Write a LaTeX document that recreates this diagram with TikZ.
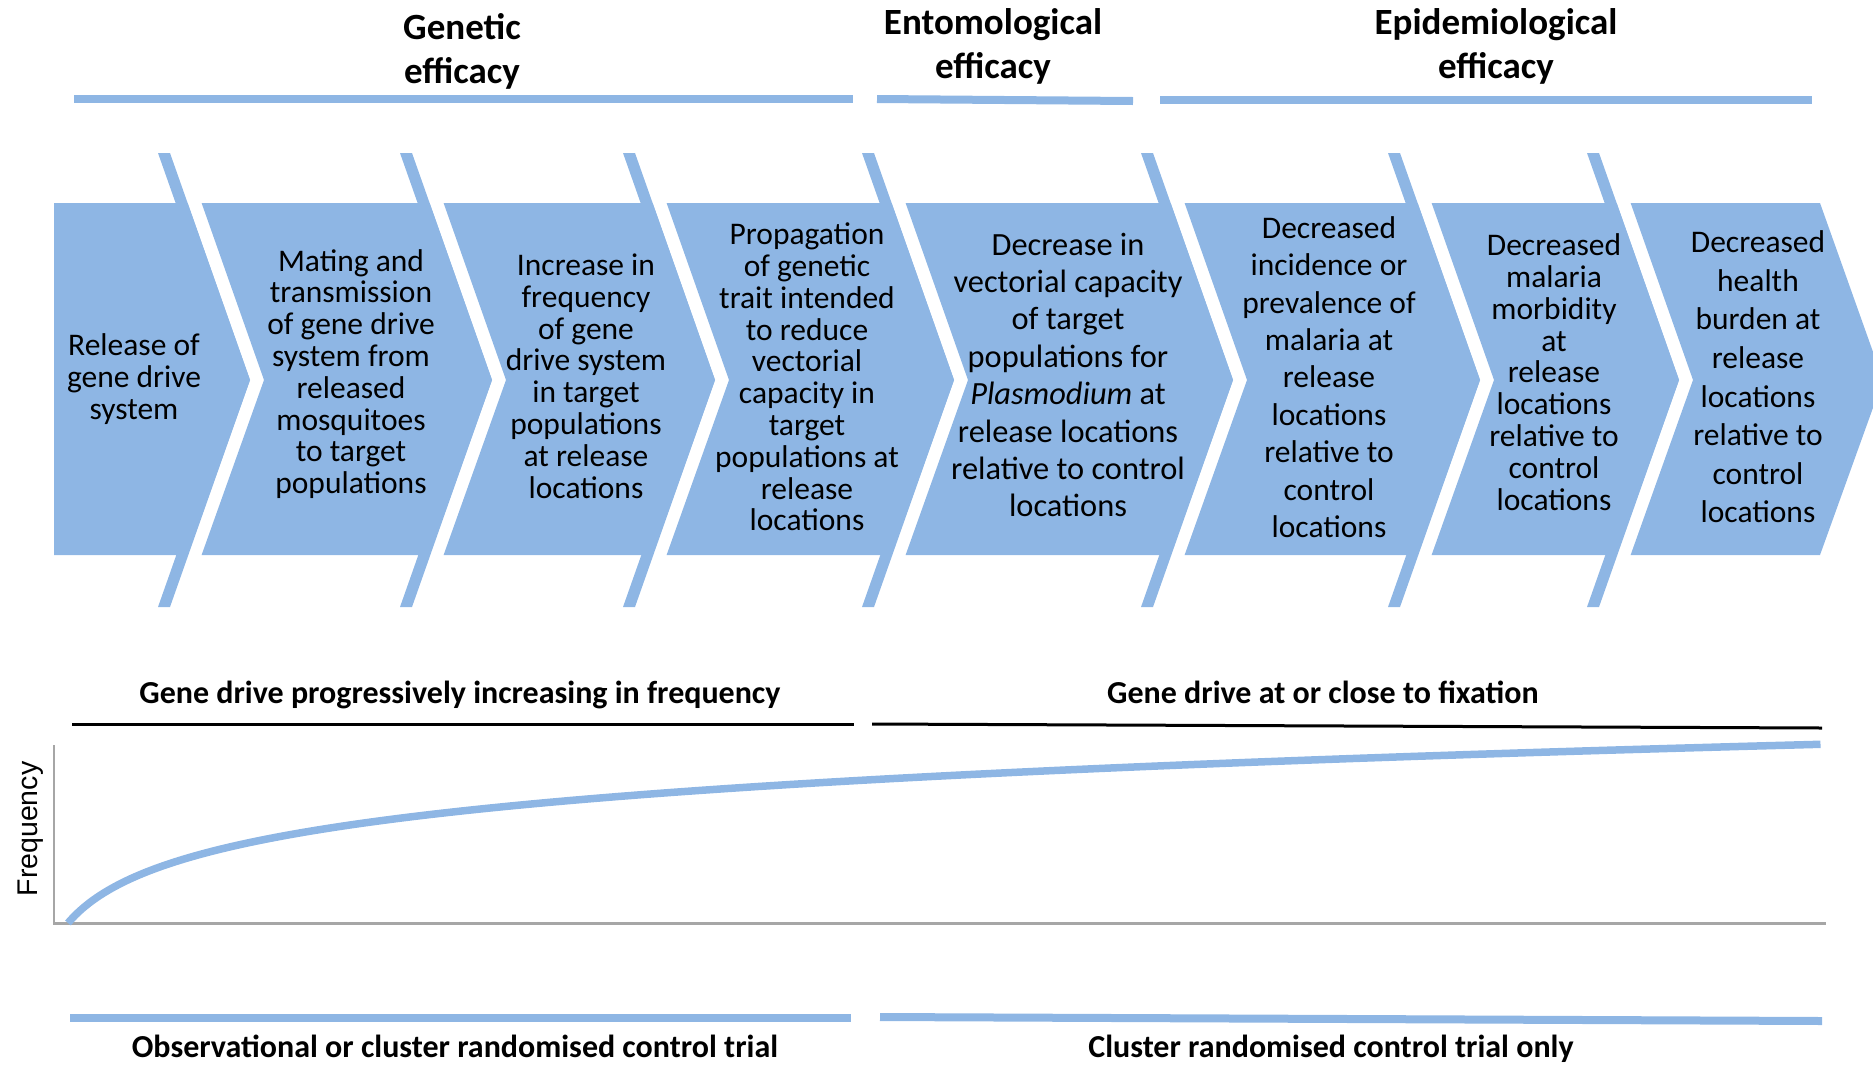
\documentclass[tikz,border=0pt]{standalone}
\usepackage{fontspec}
\setmainfont{Carlito}
\newfontfamily\axisfont{Liberation Sans}
\usepackage{tikz}
\usetikzlibrary{positioning}

\definecolor{chevblue}{RGB}{142,182,228}
\definecolor{axisgrey}{RGB}{166,166,166}

\begin{document}
\begin{tikzpicture}[
    x=1pt, y=-1pt,
    chevron/.style={fill=chevblue},
    divider/.style={fill=chevblue},
    steptext/.style={align=center, inner sep=0pt, font=\fontsize{31.5}{31.8}\selectfont},
    steptextwide/.style={align=center, inner sep=0pt, font=\fontsize{31.5}{37.4}\selectfont},
    phase/.style={align=center, inner sep=0pt, font=\fontsize{37}{44}\selectfont\bfseries},
    stage/.style={anchor=base, inner sep=0pt, font=\fontsize{32}{38}\selectfont\bfseries},
    band/.style={draw=chevblue, line width=8pt},
    rule/.style={draw=black, line width=3pt}
]
\useasboundingbox (0,0) rectangle (1873,1066);

% efficacy headings
\node[phase] (genetic) at (462,51) {Genetic\\efficacy};
\node[phase] (entomological) at (993,46) {Entomological\\efficacy};
\node[phase] (epidemiological) at (1496,46) {Epidemiological\\efficacy};

\draw[band] (74,99) -- (853,99);
\draw[band] (877,99) -- (1133,101);
\draw[band] (1160,100) -- (1812,100);

% chevron bodies
\fill[chevron] (54,203) -- (187.6,203) -- (250,380) -- (187.6,555) -- (54,555) -- cycle;
\fill[chevron] (201.6,203) -- (429.6,203) -- (492,380) -- (429.6,555) -- (201.6,555) -- (264,380) -- cycle;
\fill[chevron] (443.6,203) -- (652.6,203) -- (715,380) -- (652.6,555) -- (443.6,555) -- (506,380) -- cycle;
\fill[chevron] (666.6,203) -- (891.6,203) -- (954,380) -- (891.6,555) -- (666.6,555) -- (729,380) -- cycle;
\fill[chevron] (905.6,203) -- (1170.6,203) -- (1233,380) -- (1170.6,555) -- (905.6,555) -- (968,380) -- cycle;
\fill[chevron] (1184.6,203) -- (1417.6,203) -- (1480,380) -- (1417.6,555) -- (1184.6,555) -- (1247,380) -- cycle;
\fill[chevron] (1431.6,203) -- (1616.6,203) -- (1679,380) -- (1616.6,555) -- (1431.6,555) -- (1494,380) -- cycle;
\fill[chevron] (1630.6,203) -- (1820,203) -- (1883,380) -- (1820,555) -- (1630.6,555) -- (1693,380) -- cycle;

% dividers between the steps
\fill[divider] (158,153) -- ++(12,0) -- ++(80,227) -- ++(-80,227) -- ++(-12,0) -- ++(80,-227) -- cycle;
\fill[divider] (400,153) -- ++(12,0) -- ++(80,227) -- ++(-80,227) -- ++(-12,0) -- ++(80,-227) -- cycle;
\fill[divider] (623,153) -- ++(12,0) -- ++(80,227) -- ++(-80,227) -- ++(-12,0) -- ++(80,-227) -- cycle;
\fill[divider] (862,153) -- ++(12,0) -- ++(80,227) -- ++(-80,227) -- ++(-12,0) -- ++(80,-227) -- cycle;
\fill[divider] (1141,153) -- ++(12,0) -- ++(80,227) -- ++(-80,227) -- ++(-12,0) -- ++(80,-227) -- cycle;
\fill[divider] (1388,153) -- ++(12,0) -- ++(80,227) -- ++(-80,227) -- ++(-12,0) -- ++(80,-227) -- cycle;
\fill[divider] (1587,153) -- ++(12,0) -- ++(80,227) -- ++(-80,227) -- ++(-12,0) -- ++(80,-227) -- cycle;

\node[steptext] (release) at (134,379) {Release of\\gene drive\\system};
\node[steptext] (mating) at (351,374) {Mating and\\transmission\\of gene drive\\system from\\released\\mosquitoes\\to target\\populations};
\node[steptext] (increase) at (586,376) {Increase in\\frequency\\of gene\\drive system\\in target\\populations\\at release\\locations};
\node[steptext] (propagation) at (807,377) {Propagation\\of genetic\\trait intended\\to reduce\\vectorial\\capacity in\\target\\populations at\\release\\locations};
\node[steptextwide, font=\fontsize{32.4}{37.4}\selectfont] (vectorial) at (1068,375) {Decrease in\\vectorial capacity\\of target\\populations for\\\textit{Plasmodium} at\\release locations\\relative to control\\locations};
\node[steptextwide] (incidence) at (1329,377) {Decreased\\incidence or\\prevalence of\\malaria at\\release\\locations\\relative to\\control\\locations};
\node[steptext] (morbidity) at (1554,372) {Decreased\\malaria\\morbidity\\at\\release\\locations\\relative to\\control\\locations};
\node[steptextwide, font=\fontsize{31.5}{38.6}\selectfont] (burden) at (1758,377) {Decreased\\health\\burden at\\release\\locations\\relative to\\control\\locations};

% frequency graph
\node[stage] (progressive) at (460,703) {Gene drive progressively increasing in frequency};
\node[stage] (fixation) at (1323,703) {Gene drive at or close to fixation};
\draw[rule] (72,724) -- (854,724);
\draw[rule] (872,724) -- (1822,728);

\draw[axisgrey, line width=2pt] (54,745) -- (54,923);
\draw[axisgrey, line width=3pt] (53,923) -- (1826,923);
\draw[chevblue, line width=7.5pt] plot[domain=0:3.803, samples=90, variable=\t] ({68+40*(exp(\t)-1)}, {923-47*\t});
\node[rotate=90, anchor=base, inner sep=0pt, font=\axisfont\fontsize{28.5}{34}\selectfont] (freq-label) at (37,829) {Frequency};

% trial designs
\draw[band] (70,1018) -- (851,1018);
\draw[band] (880,1017) -- (1822,1021);
\node[stage] (observational) at (455,1057) {Observational or cluster randomised control trial};
\node[stage] (cluster) at (1331,1057) {Cluster randomised control trial only};

\end{tikzpicture}
\end{document}
